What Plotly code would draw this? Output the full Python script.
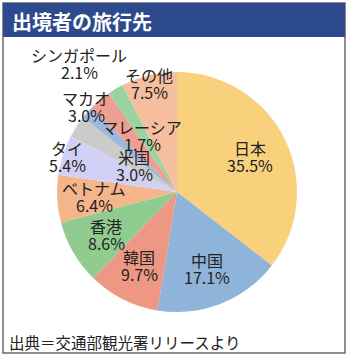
import plotly.graph_objects as go

# ---- data ----
labels = ["日本", "中国", "韓国", "香港", "ベトナム", "タイ", "米国", "マレーシア", "マカオ", "シンガポール", "その他"]
shares = [35.5, 17.1, 9.7, 8.6, 6.4, 5.4, 3.0, 1.7, 3.0, 2.1, 7.5]
title_text = "出境者の旅行先"
source_text = "出典＝交通部観光署リリースより"

# ---- styles ----
colors = ["#F9D07C", "#8FB4DA", "#EE9784", "#90CB90", "#F5B58A", "#D3D0F7",
          "#CBCBCB", "#9DB8DD", "#EF9F91", "#99D4A0", "#F5BE9E"]
W, H = 350, 361
cx, cy, r = 177, 192, 120
# label centres (pixels) for each category, in the same order as labels
label_pos = [(250, 157), (207, 268), (139, 265), (106, 234), (94, 196), (67, 156),
             (134, 166), (142, 135), (86, 107), (79, 64), (149, 83)]
line_gap = 8.5


def px(x):
    return x / W


def py(y):
    return 1 - y / H


fig = go.Figure(go.Pie(
    labels=labels,
    values=shares,
    sort=False,
    direction="clockwise",
    rotation=0,
    textinfo="none",
    hoverinfo="label+percent",
    marker=dict(colors=colors, line=dict(width=0)),
    domain=dict(x=[px(cx - r), px(cx + r)], y=[py(cy + r), py(cy - r)]),
    showlegend=False,
))

font_lbl = dict(family="Noto Sans CJK JP", size=16, color="#222222")
annotations = []
for lab, val, (x, y) in zip(labels, shares, label_pos):
    annotations.append(dict(x=px(x), y=py(y - line_gap), xref="paper", yref="paper",
                            text=lab, showarrow=False, font=font_lbl,
                            xanchor="center", yanchor="middle"))
    annotations.append(dict(x=px(x), y=py(y + line_gap), xref="paper", yref="paper",
                            text=f"{val:.1f}%", showarrow=False, font=font_lbl,
                            xanchor="center", yanchor="middle"))

annotations.append(dict(x=px(10), y=py(21), xref="paper", yref="paper", text=f"<b>{title_text}</b>",
                        showarrow=False, xanchor="left", yanchor="middle",
                        font=dict(family="Noto Sans CJK JP", size=20, color="white")))
annotations.append(dict(x=px(7), y=py(342), xref="paper", yref="paper", text=source_text,
                        showarrow=False, xanchor="left", yanchor="middle",
                        font=dict(family="Noto Sans CJK JP", size=15.5, color="#222222")))

shapes = [
    dict(type="rect", xref="paper", yref="paper", x0=px(3), x1=px(345), y0=py(353), y1=py(3),
         line=dict(color="#6A6A6A", width=1.5), fillcolor="rgba(0,0,0,0)", layer="below"),
    dict(type="rect", xref="paper", yref="paper", x0=px(3), x1=px(345), y0=py(37), y1=py(3),
         line=dict(width=0), fillcolor="#2D4A8E", layer="below"),
]

fig.update_layout(
    width=W, height=H,
    margin=dict(l=0, r=0, t=0, b=0),
    paper_bgcolor="white", plot_bgcolor="white",
    annotations=annotations, shapes=shapes,
)

fig.write_html("out.html")
